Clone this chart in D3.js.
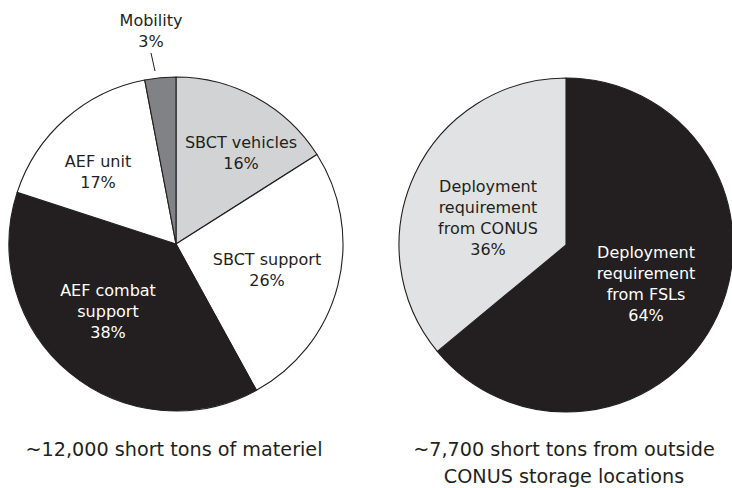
<!DOCTYPE html>
<html>
<head>
<meta charset="utf-8">
<script src="https://cdn.jsdelivr.net/npm/d3@7"></script>
<style>
  body { margin: 0; background: #fff; }
  svg { display: block; font-family: "DejaVu Sans", "Open Sans", sans-serif; }
</style>
</head>
<body>
<script>
//data for the left pie (clockwise from 12 o'clock)
var leftCategories = ["SBCT vehicles", "SBCT support", "AEF combat support", "AEF unit", "Mobility"];
var leftValues = [16, 26, 38, 17, 3];
var leftLabelLines = [["SBCT vehicles", "16%"], ["SBCT support", "26%"], ["AEF combat", "support", "38%"], ["AEF unit", "17%"], ["Mobility", "3%"]];
var leftCaption = ["~12,000 short tons of materiel"];

//data for the right pie
var rightCategories = ["Deployment requirement from FSLs", "Deployment requirement from CONUS"];
var rightValues = [64, 36];
var rightLabelLines = [["Deployment", "requirement", "from FSLs", "64%"], ["Deployment", "requirement", "from CONUS", "36%"]];
var rightCaption = ["~7,700 short tons from outside", "CONUS storage locations"];

//chart frame dimensions
var width = 732,
    height = 488,
    radius = 167,
    lineHeight = 21;

var svg = d3.select("body")
    .append("svg")
    .attr("width", width)
    .attr("height", height);

//left pie: colours and label placement (offsets from pie centre)
drawPie({
    cx: 176, cy: 244,
    values: leftValues,
    categories: leftCategories,
    lines: leftLabelLines,
    fills: ["#d1d3d4", "#ffffff", "#231f20", "#ffffff", "#808285"],
    textFills: ["#231f20", "#231f20", "#ffffff", "#231f20", "#231f20"],
    labelPos: [[65, -96], [91, 21], [-68, 52], [-78, -77], [-25, -218]],
    leader: {index: 4, from: [-21, -173], to: [-25, -191]},
    caption: leftCaption,
    captionPos: [174, 456]
});

//right pie
drawPie({
    cx: 566, cy: 245,
    values: rightValues,
    categories: rightCategories,
    lines: rightLabelLines,
    fills: ["#231f20", "#e1e2e3"],
    textFills: ["#ffffff", "#231f20"],
    labelPos: [[80, 13], [-78, -53]],
    leader: null,
    caption: rightCaption,
    captionPos: [564, 456]
});

function drawPie(cfg){
    var g = svg.append("g")
        .attr("transform", "translate(" + cfg.cx + "," + cfg.cy + ")");

    var pie = d3.pie()
        .sort(null)
        .value(function(d){ return d; });

    var arc = d3.arc()
        .innerRadius(0)
        .outerRadius(radius);

    var arcs = pie(cfg.values);

    //slices
    g.selectAll(".slice")
        .data(arcs)
        .enter()
        .append("path")
        .attr("class", "slice")
        .attr("d", arc)
        .attr("fill", function(d, i){ return cfg.fills[i]; })
        .attr("stroke", "#231f20")
        .attr("stroke-width", 1.1)
        .attr("stroke-linejoin", "round");

    //slice labels
    var labels = g.selectAll(".label")
        .data(arcs)
        .enter()
        .append("text")
        .attr("class", "label")
        .attr("text-anchor", "middle")
        .attr("font-size", 16)
        .attr("fill", function(d, i){ return cfg.textFills[i]; })
        .attr("transform", function(d, i){
            return "translate(" + cfg.labelPos[i][0] + "," + cfg.labelPos[i][1] + ")";
        });

    labels.selectAll("tspan")
        .data(function(d, i){ return cfg.lines[i]; })
        .enter()
        .append("tspan")
        .attr("x", 0)
        .attr("y", function(d, j){ return j * lineHeight; })
        .text(function(d){ return d; });

    //leader line for small slice
    if (cfg.leader){
        g.append("line")
            .attr("x1", cfg.leader.from[0])
            .attr("y1", cfg.leader.from[1])
            .attr("x2", cfg.leader.to[0])
            .attr("y2", cfg.leader.to[1])
            .attr("stroke", "#231f20")
            .attr("stroke-width", 1);
    }

    //caption under the pie
    svg.append("text")
        .attr("text-anchor", "middle")
        .attr("font-size", 19.2)
        .attr("fill", "#231f20")
        .attr("transform", "translate(" + cfg.captionPos[0] + "," + cfg.captionPos[1] + ")")
        .selectAll("tspan")
        .data(cfg.caption)
        .enter()
        .append("tspan")
        .attr("x", 0)
        .attr("y", function(d, j){ return j * 27; })
        .text(function(d){ return d; });
}
</script>
</body>
</html>
